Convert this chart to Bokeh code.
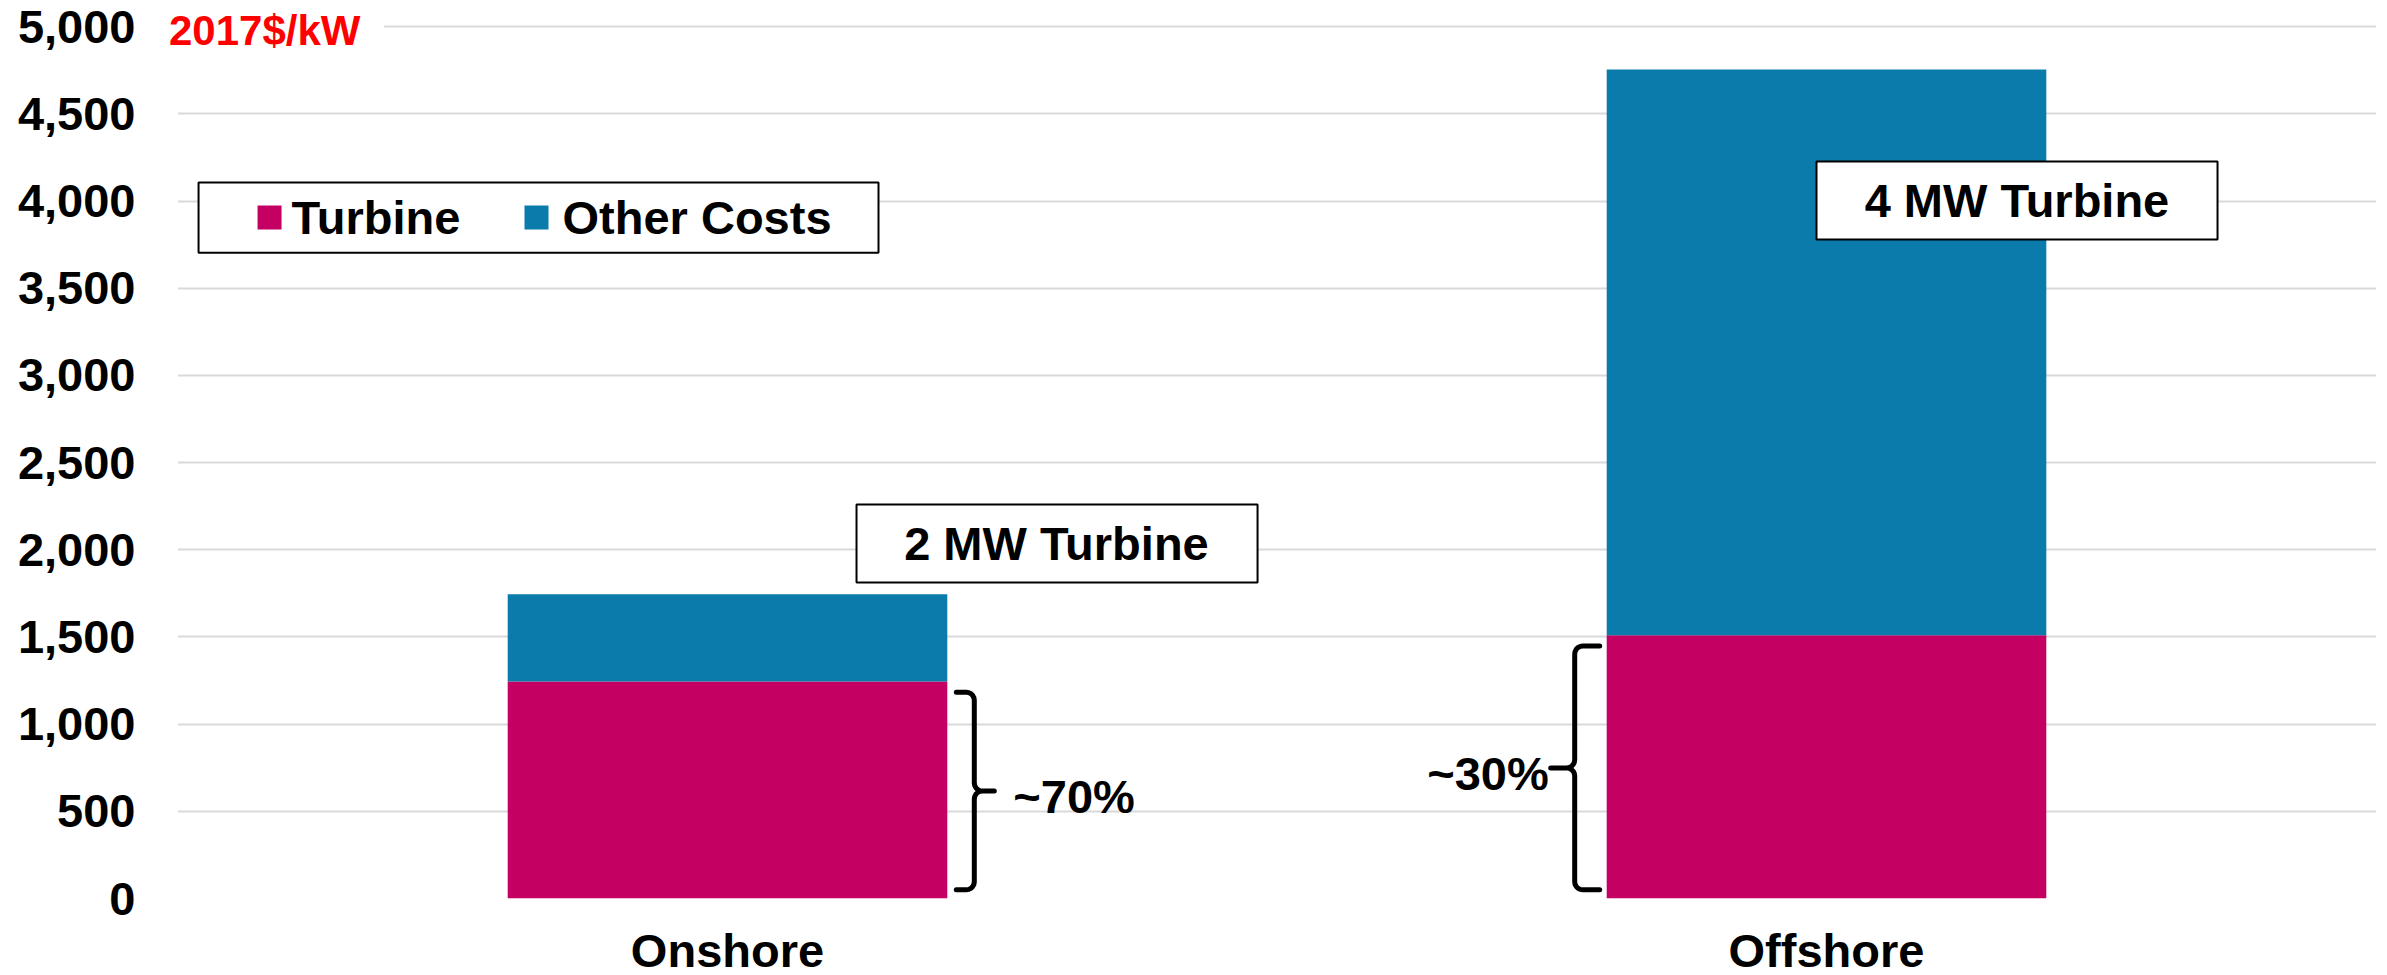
import numpy as np
from bokeh.plotting import figure
from bokeh.models import ColumnDataSource, FactorRange, Label, NumeralTickFormatter, FixedTicker
from bokeh.core.properties import value
from bokeh.embed import file_html
from bokeh.resources import INLINE

# Capital cost per kW, 2017 dollars
categories = ["Onshore", "Offshore"]
turbine = [1245, 1510]
other_costs = [500, 3245]
series = ["Turbine", "Other Costs"]
colors = ["#C40062", "#0A7BAA"]
y_ticks = [0, 500, 1000, 1500, 2000, 2500, 3000, 3500, 4000, 4500, 5000]
turbine_share = ["~70%", "~30%"]
turbine_size = ["2 MW Turbine", "4 MW Turbine"]
unit_label = "2017$/kW"

FONT = value("Liberation Sans")
FS = "47px"
Y_MAX = 5150
FRAME_H = 898
PX = 1.0 / 1099          # one screen pixel in category units
PY = Y_MAX / FRAME_H     # one screen pixel in value units
PAD = 11.5 * PX          # frame reaches a little left of the first band

source = ColumnDataSource(data={"category": categories, "Turbine": turbine, "Other Costs": other_costs})

p = figure(
    x_range=FactorRange(factors=categories, range_padding=PAD, range_padding_units="absolute"),
    y_range=(0, Y_MAX),
    frame_width=2221, frame_height=FRAME_H,
    min_border_left=166, min_border_right=0, min_border_top=0, min_border_bottom=77,
    output_backend="svg", toolbar_location=None,
)
p.outline_line_color = None
p.background_fill_color = "white"
p.border_fill_color = "white"

# gridlines run only across the two category bands
p.quad(left=[-PAD, 2], right=[0, 2 + PAD], bottom=[0, 0], top=[Y_MAX, Y_MAX],
       fill_color="white", line_color=None)

p.vbar_stack(series, x="category", width=0.4, color=colors, line_color=None, source=source)

# axes
p.xgrid.grid_line_color = None
p.ygrid.grid_line_color = "#D9D9D9"
p.ygrid.grid_line_width = 2
p.yaxis.ticker = FixedTicker(ticks=y_ticks)
p.yaxis.formatter = NumeralTickFormatter(format="0,0")
for ax in (p.xaxis[0], p.yaxis[0]):
    ax.axis_line_color = None
    ax.major_tick_line_color = None
    ax.minor_tick_line_color = None
    ax.major_tick_out = 0
    ax.major_tick_in = 0
    ax.major_label_text_font = "Liberation Sans"
    ax.major_label_text_font_style = "bold"
    ax.major_label_text_font_size = FS
    ax.major_label_text_color = "black"
p.yaxis.major_label_standoff = 31
p.xaxis.major_label_standoff = 25

# unit label in the top-left corner, masking the top gridline behind it
p.quad(left=[-PAD], right=[0.1874], bottom=[4965], top=[5035], fill_color="white", line_color=None)
p.add_layout(Label(x=-9 * PX, y=4977, text=unit_label, text_font="Liberation Sans",
                   text_font_style="bold", text_font_size="42px", text_color="#FF0000",
                   text_baseline="middle", text_align="left"))

# legend box
p.quad(left=[0.0187], right=[0.6374], bottom=[3704], top=[4106],
       fill_color="white", line_color="black", line_width=2)
p.rect(x=[0.0833, 0.3262], y=[3905, 3905], width=24, height=24,
       width_units="screen", height_units="screen", fill_color=colors, line_color=None)
p.text(x=[0.1033, 0.3499], y=[3905, 3905], text=series, text_font=FONT, text_font_style="bold",
       text_font_size=FS, text_color="black", text_baseline="middle", text_align="left")

# turbine size call-outs
p.quad(left=[0.6174, 1.4909], right=[0.9823, 1.8558], bottom=[1812, 3779], top=[2259, 4226],
       fill_color="white", line_color="black", line_width=2)
p.text(x=[0.7993, 1.6733], y=[2036, 4002], text=turbine_size, text_font=FONT, text_font_style="bold",
       text_font_size=FS, text_color="black", text_baseline="middle", text_align="center")


def arc(cx, cy, r, a0, a1):
    """Quarter-circle corner, in pixels."""
    a = np.radians(np.linspace(a0, a1, 6))
    return list(cx + r * np.cos(a)), list(cy + r * np.sin(a))


def brace(vert, top, bottom, mid, serif_len, tip_len, d, r=8):
    """Curly brace with its spine at `vert` (category units); the tip points
    towards d (+1 right, -1 left) and the serifs point back.  Shape is built in
    pixels relative to the spine, then mapped to data units."""
    t, b, m = top / PY, bottom / PY, mid / PY
    xs, ys = [-serif_len], [t]
    ax, ay = arc(-r, t - r, r, 90, 0); xs += ax; ys += ay
    ax, ay = arc(r, m + r, r, 180, 270); xs += ax; ys += ay
    xs += [tip_len, r]; ys += [m, m]
    ax, ay = arc(r, m - r, r, 90, 180); xs += ax; ys += ay
    ax, ay = arc(-r, b + r, r, 0, -90); xs += ax; ys += ay
    xs += [-serif_len]; ys += [b]
    return [vert + d * x * PX for x in xs], [y * PY for y in ys]


# braces marking the turbine share of each bar
bx, by = [], []
tx, ty, aligns = [], [], []
for i, t in enumerate(turbine):
    bottom = 50
    top = t - 62
    mid = (top + bottom) / 2
    if i == 0:
        edge = i + 0.5 + 0.2
        xs, ys = brace(edge + 27 * PX, top, bottom, mid, 18, 20, 1)
        tx.append(edge + 66 * PX)
        aligns.append("left")
    else:
        edge = i + 0.5 - 0.2
        xs, ys = brace(edge - 32 * PX, top, bottom, mid, 25, 24, -1)
        tx.append(edge - 58 * PX)
        aligns.append("right")
    bx.append(xs)
    by.append(ys)
    ty.append(mid - 30)

p.multi_line(xs=bx, ys=by, line_color="black", line_width=5, line_join="round", line_cap="round")
p.text(x=tx, y=ty, text=turbine_share, text_font=FONT, text_font_style="bold",
       text_font_size=FS, text_color="black", text_baseline="middle", text_align=aligns)

open("out.html", "w").write(file_html(p, INLINE))
